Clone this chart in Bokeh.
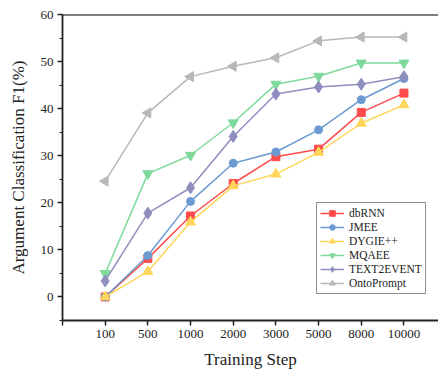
from bokeh.plotting import figure
from bokeh.models import FixedTicker, Range1d, Span, Legend
from bokeh.embed import file_html
from bokeh.resources import INLINE
import math

steps = ["100", "500", "1000", "2000", "3000", "5000", "8000", "10000"]
dbRNN = [0.0, 8.2, 17.2, 24.1, 29.8, 31.4, 39.2, 43.3]
JMEE = [0.0, 8.8, 20.3, 28.4, 30.8, 35.5, 41.9, 46.4]
DYGIE = [0.0, 5.4, 15.9, 23.6, 26.1, 30.7, 36.9, 40.8]
MQAEE = [5.0, 26.2, 30.1, 37.0, 45.2, 46.9, 49.7, 49.7]
TEXT2EVENT = [3.4, 17.8, 23.2, 34.1, 43.1, 44.6, 45.2, 46.8]
OntoPrompt = [24.6, 39.1, 46.8, 49.0, 50.8, 54.4, 55.2, 55.2]
y_ticks = [0, 10, 20, 30, 40, 50, 60]

FONT = "Liberation Serif"
xs = list(range(1, len(steps) + 1))

p = figure(width=438, height=371, output_backend="svg", toolbar_location=None,
           x_range=Range1d(0, 8.81), y_range=Range1d(-5, 60),
           min_border_left=62, min_border_right=0, min_border_top=14, min_border_bottom=47)
p.outline_line_color = None
p.grid.visible = False
p.background_fill_color = "white"

series = [
    ("dbRNN", dbRNN, "#FF4B4B", "square", 0.0, 8),
    ("JMEE", JMEE, "#6B9BD2", "circle", 0.0, 8),
    ("DYGIE++", DYGIE, "#FFD659", "triangle", 0.0, 10),
    ("MQAEE", MQAEE, "#7ED99A", "inverted_triangle", 0.0, 10),
    ("TEXT2EVENT", TEXT2EVENT, "#8E8EBF", "diamond", 0.0, 12),
    ("OntoPrompt", OntoPrompt, "#B8B8B8", "triangle", math.pi / 2, 10),
]

items = []
for name, ys, col, mk, ang, sz in series:
    l = p.line(xs, ys, line_color=col, line_width=1.5)
    s = p.scatter(xs, ys, marker=mk, size=sz, angle=ang, fill_color=col, line_color=col)
    items.append((name, [l, s]))

legend = Legend(items=items, location=(254, 26))
legend.label_text_font = FONT
legend.label_text_font_size = "11.5px"
legend.label_text_color = "#222222"
legend.glyph_height = 14
legend.glyph_width = 24
legend.label_height = 14
legend.spacing = 0
legend.padding = 3
legend.margin = 0
legend.label_standoff = 5
legend.border_line_color = "#222222"
legend.border_line_width = 1.2
legend.background_fill_alpha = 1
p.add_layout(legend, "center")

p.xaxis.ticker = FixedTicker(ticks=[0] + xs)
p.xaxis.major_label_overrides = {0: ""} | {x: s for x, s in zip(xs, steps)}
p.xaxis.axis_label = "Training Step"
p.yaxis.ticker = FixedTicker(ticks=y_ticks, minor_ticks=[-5, 5, 15, 25, 35, 45, 55])
p.yaxis.axis_label = "Argument Classification F1(%)"

for ax in (p.xaxis[0], p.yaxis[0]):
    ax.axis_line_color = "#222222"
    ax.axis_line_width = 1.8
    ax.major_tick_line_color = "#222222"
    ax.major_tick_line_width = 1.5
    ax.minor_tick_line_color = "#222222"
    ax.minor_tick_line_width = 1.2
    ax.major_tick_in = 0
    ax.major_tick_out = 5
    ax.minor_tick_in = 0
    ax.minor_tick_out = 3
    ax.major_label_text_font = FONT
    ax.major_label_text_font_size = "13px"
    ax.major_label_text_color = "#222222"
    ax.axis_label_text_font = FONT
    ax.axis_label_text_font_size = "17px"
    ax.axis_label_text_font_style = "normal"
    ax.axis_label_text_color = "#222222"

p.xaxis.minor_tick_line_color = None
p.xaxis.major_label_standoff = 4
p.xaxis.axis_label_standoff = 9
p.yaxis.major_label_standoff = 4
p.yaxis.axis_label_standoff = 10

top = Span(location=60, dimension="width", line_color="black", line_width=2)
p.add_layout(top)

open("out.html", "w").write(file_html(p, INLINE))
